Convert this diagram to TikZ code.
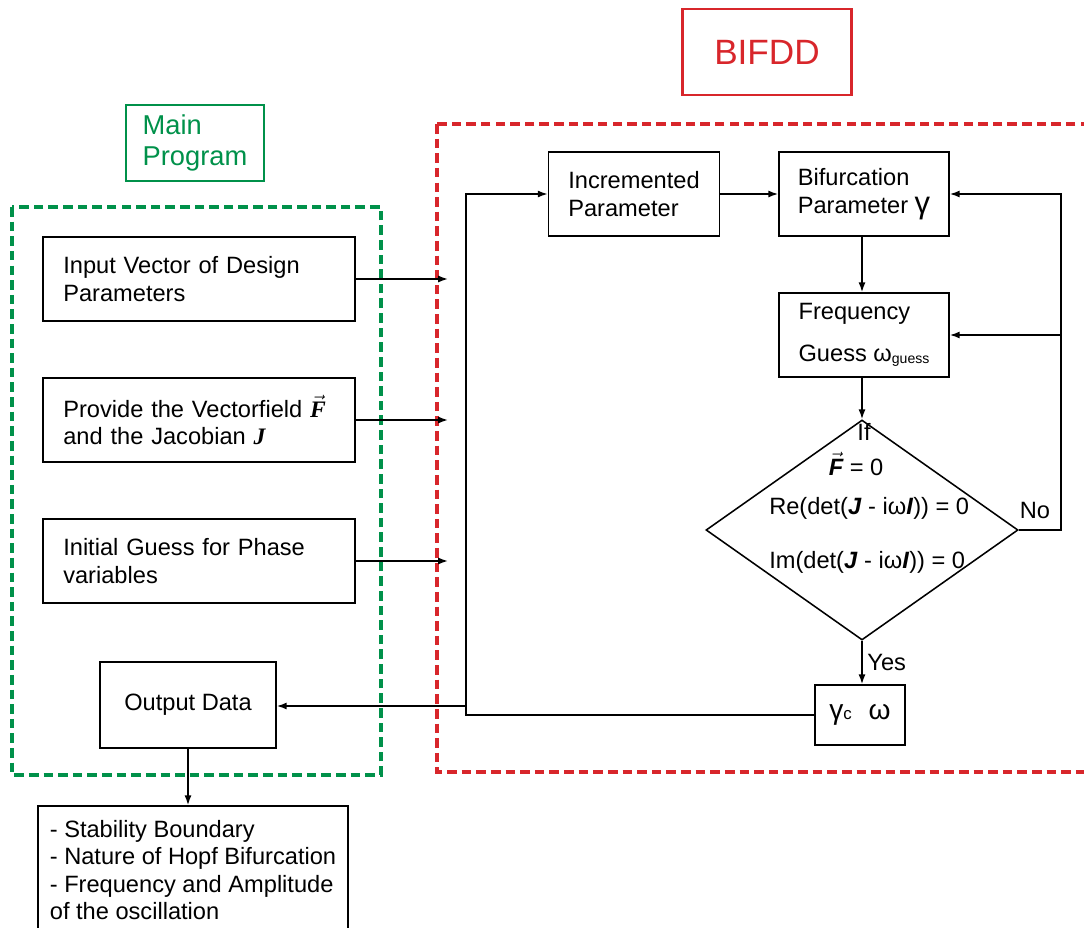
\documentclass[tikz,border=0pt]{standalone}
\usepackage{fontspec}
\usepackage{amsmath}
\setmainfont{Liberation Sans}
\newfontfamily\serifbi{Liberation Serif}
\usetikzlibrary{positioning,arrows.meta,shapes.geometric}
\definecolor{progreen}{HTML}{00914A}
\definecolor{bifred}{HTML}{D8262B}
\newcommand{\vecFs}{\ensuremath{\vec{\mbox{\serifbi\bfseries\itshape F}}}}
\newcommand{\vecF}{\ensuremath{\vec{\mbox{\bfseries\itshape F}}}}
\newcommand{\bi}[1]{\textbf{\textit{#1}}}
\begin{document}
\begin{tikzpicture}[x=0.025cm,y=-0.025cm,
  font=\fontsize{16.8}{19.5}\selectfont,
  inbox/.style={rectangle,draw,line width=1.1pt,minimum width=7.8cm,minimum height=2.1cm,text width=193pt,inner xsep=14pt,align=left},
  stepbox/.style={rectangle,draw,line width=1.1pt,minimum height=2.1cm,align=left},
  decision/.style={diamond,draw,line width=1.1pt,minimum width=7.8cm,minimum height=5.5cm,inner sep=0pt},
  dtext/.style={inner sep=0pt},
  titlebox/.style={rectangle,draw,line width=2pt,align=left},
  group/.style={line width=2.2pt,dash pattern=on 6.8pt off 3.6pt},
  arr/.style={-{Latex[length=7pt,width=5pt]},line width=1.1pt},
]
\useasboundingbox (0,0) rectangle (1084,927);

% Titles and group frames
\node[titlebox,draw=progreen,text=progreen,font=\fontsize{19.4}{22}\selectfont,minimum width=3.45cm,minimum height=1.9cm] (maintitle) at (195,143) {Main\\Program};
\node[titlebox,draw=bifred,text=bifred,font=\fontsize{25}{28}\selectfont,minimum width=4.225cm,minimum height=2.15cm] (biftitle) at (767,52) {BIFDD};
\draw[group,progreen] (12,207) rectangle (381,775);
\draw[group,bifred] (437,124) rectangle (1110,772);

% Main program (left)
\node[inbox] (inp) at (199,279) {Input Vector of Design\\Parameters};
\node[inbox] (vec) at (199,420) {Provide the Vectorfield \vecFs\\and the Jacobian {\serifbi\bfseries\itshape J}};
\node[inbox] (ini) at (199,561) {Initial Guess for Phase\\variables};
\node[stepbox,minimum width=4.4cm,minimum height=2.15cm] (out) at (188,705) {Output Data};
\node[stepbox,minimum width=7.75cm,minimum height=3.2cm] (res) at (193,870) {- Stability Boundary\\- Nature of Hopf Bifurcation\\- Frequency and Amplitude\\of the oscillation};

% BIFDD (right)
\node[stepbox,minimum width=4.275cm] (inc) at (634,194) {Incremented\\Parameter};
\node[stepbox,minimum width=4.25cm] (bif) at (864,194) {Bifurcation\\Parameter {\fontsize{22}{22}\selectfont γ}};
\node[stepbox,minimum width=4.25cm] (frq) at (864,335) {Frequency\\[10pt]Guess ω\raisebox{-2pt}{\fontsize{10}{10}\selectfont guess}};
\node[decision] (dec) at (862,530) {};
\node[dtext] (cif) at (864,432) {If};
\node[dtext] (cf) at (856,464) {\vecF\ = 0};
\node[dtext,anchor=west] (cre) at (769,508) {Re(det(\bi{J} - iω\bi{I})) = 0};
\node[dtext,anchor=west] (cim) at (769,562) {Im(det(\bi{J} - iω\bi{I})) = 0};
\node[dtext] (no) at (1035,510) {No};
\node[stepbox,minimum width=2.25cm,minimum height=1.5cm] (gam) at (860,715) {{\fontsize{20}{20}\selectfont γ}{\fontsize{12}{12}\selectfont c}\hspace{12pt}{\fontsize{20}{20}\selectfont ω}};

\coordinate (inpend) at (448,279);
\coordinate (vecend) at (448,420);
\coordinate (iniend) at (448,561);
\coordinate (bustop) at (466,194);
\coordinate (bustap) at (466,706);
\coordinate (loopx)  at (1061,194);

% Connectors
\draw[arr] (inp.east) -- (inpend);
\draw[arr] (vec.east) -- (vecend);
\draw[arr] (ini.east) -- (iniend);
\draw[arr] (gam.west) -| (bustop) -- (inc.west);
\draw[arr] (bustap) -- (bustap -| out.east);
\draw[arr] (inc.east) -- (bif.west);
\draw[arr] (bif.south -| dec.north) -- (frq.north -| dec.north);
\draw[arr] (frq.south -| dec.north) -- (dec.north);
\draw[arr] (dec.east) -| (loopx) -- (bif.east);
\draw[arr] (frq.east -| loopx) -- (frq.east);
\draw[arr] (dec.south) -- node[right] (yes) {Yes} (dec.south |- gam.north);
\draw[arr] (out.south) -- (out.south |- res.north);
\end{tikzpicture}
\end{document}
